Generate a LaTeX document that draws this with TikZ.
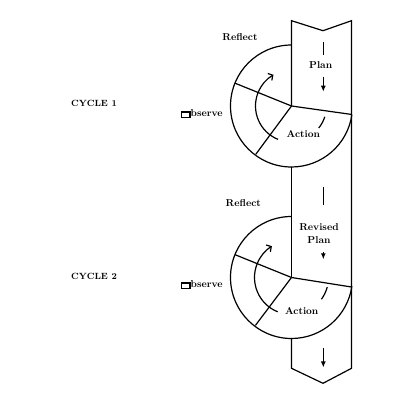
\documentclass[tikz,border=0pt]{standalone}
\usepackage{tikz}
\usetikzlibrary{calc}
\usetikzlibrary{arrows.meta}

\tikzset{
  lbl/.style={font=\fontsize{10}{13.3}\selectfont\bfseries, inner sep=0pt, align=center},
  cyc/.style={font=\fontsize{9}{11}\selectfont\bfseries, inner sep=0pt},
  dn/.style={-{Latex[length=6pt,width=5pt]}},
  turn/.style={-{Straight Barb[length=3.5pt,width=8pt]}}
}
\newcommand{\glyphbox}{{\setlength{\fboxsep}{0pt}\setlength{\fboxrule}{1.4pt}\fbox{\rule{7pt}{0pt}\rule{0pt}{4pt}}}}

\begin{document}
\begin{tikzpicture}[x=1pt, y=1pt, line width=1.2pt]
  \useasboundingbox (0,0) rectangle (403,405);
  \coordinate (c1) at (291.5,299);
  \coordinate (c2) at (291.5,127.5);

  % the column
  \draw (291.5,299) -- (291.5,384.3) -- (323,374.3) -- (351.5,384.3) -- (351.5,36.7)
    -- (323,21.7) -- (291.5,36.7) -- (291.5,66.5);
  \draw (291.5,238) -- (291.5,127.5);

  % cycle 1
  \draw ($(c1)+(90:61)$) arc [start angle=90, end angle=352, radius=61];
  \draw (c1) -- ++(158:61);
  \draw (c1) -- ++(233.5:60);
  \draw (c1) -- ++(-8:60.5);
  \draw [turn] ($(c1)+(248:36)$) arc [start angle=248, end angle=120, radius=36];
  \draw ($(c1)+(-18:35)$) arc [start angle=-18, end angle=-39, radius=35];
  \draw (323.3,363.3) -- (323.3,350);
  \draw [dn] (323.3,328.3) -- (323.3,313.3);

  % cycle 2
  \draw ($(c2)+(90:61)$) arc [start angle=90, end angle=352, radius=61];
  \draw (c2) -- ++(158:61);
  \draw (c2) -- ++(233:60);
  \draw (c2) -- ++(-9:60.5);
  \draw [turn] ($(c2)+(248:37)$) arc [start angle=248, end angle=122, radius=37];
  \draw ($(c2)+(-15:37)$) arc [start angle=-15, end angle=-36, radius=37];
  \draw (323.3,218.3) -- (323.3,200);
  \draw [dn] (323.3,153) -- (323.3,145.7);
  \draw [dn] (323.3,57) -- (323.3,37.5);

  % labels
  \node [cyc] (cycle1) at (94,301.7) {CYCLE 1};
  \node [lbl] (reflect1) at (240,368.3) {Reflect};
  \node [lbl] (observe1) at (201.7,291) {\glyphbox bserve};
  \node [lbl] (plan1) at (320.7,340) {Plan};
  \node [lbl] (action1) at (303.3,270.7) {Action};

  \node [cyc] (cycle2) at (94,128.3) {CYCLE 2};
  \node [lbl] (reflect2) at (243.3,201.7) {Reflect};
  \node [lbl] (observe2) at (201.7,120) {\glyphbox bserve};
  \node [lbl] (plan2) at (319,171.7) {Revised\\Plan};
  \node [lbl] (action2) at (301.7,94) {Action};
\end{tikzpicture}
\end{document}
